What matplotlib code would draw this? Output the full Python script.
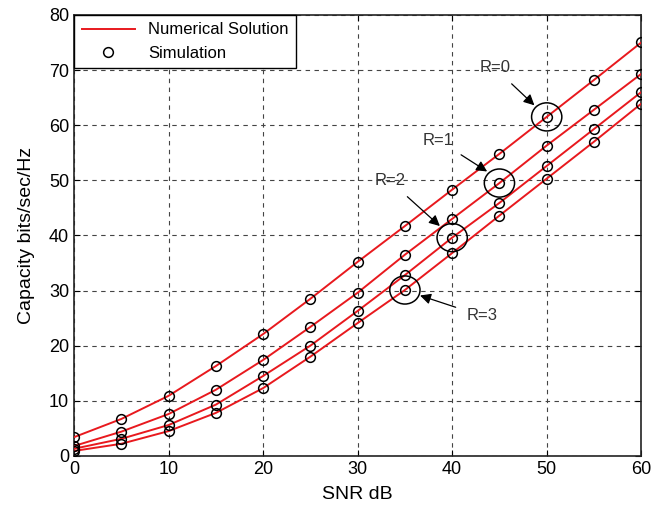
import matplotlib
matplotlib.use("Agg")
import matplotlib.pyplot as plt
from matplotlib.patches import Ellipse

plt.rcParams["font.family"] = ["Liberation Sans", "DejaVu Sans"]

snr = [0, 5, 10, 15, 20, 25, 30, 35, 40, 45, 50, 55, 60]
cap_r0 = [3.4, 6.7, 10.9, 16.3, 22.1, 28.5, 35.2, 41.7, 48.3, 54.8, 61.5, 68.2, 75.0]
cap_r1 = [1.8, 4.4, 7.6, 12.0, 17.4, 23.4, 29.6, 36.5, 43.0, 49.5, 56.3, 62.8, 69.3]
cap_r2 = [1.3, 3.1, 5.6, 9.3, 14.5, 20.0, 26.3, 32.8, 39.6, 45.9, 52.6, 59.3, 66.0]
cap_r3 = [0.9, 2.2, 4.5, 7.8, 12.3, 18.0, 24.1, 30.1, 36.8, 43.6, 50.3, 57.0, 63.9]
curves = [cap_r0, cap_r1, cap_r2, cap_r3]

labels = ["R=0", "R=1", "R=2", "R=3"]
circled_idx = [10, 9, 8, 7]
label_pos = [(44.5, 70.4), (38.5, 57.3), (33.4, 49.9), (41.5, 25.4)]

fig, ax = plt.subplots(figsize=(6.55, 5.14), dpi=100)
fig.subplots_adjust(left=0.113, right=0.979, bottom=0.113, top=0.971)

for i, c in enumerate(curves):
    ax.plot(snr, c, color="#e8191e", lw=1.4,
            label="Numerical Solution" if i == 0 else None, zorder=3)
    ax.plot(snr, c, ls="none", marker="o", ms=7, mfc="none", mec="black",
            mew=1.1, label="Simulation" if i == 0 else None, zorder=4)

for c, k, lab, (tx, ty) in zip(curves, circled_idx, labels, label_pos):
    x0, y0 = snr[k], c[k]
    ax.add_patch(Ellipse((x0, y0), 3.2, 5.1, fill=False, ec="black", lw=1.1, zorder=5))
    if lab == "R=3":
        tgt = (x0 + 1.6, y0 - 1.0)
        ha = "left"
    else:
        tgt = (x0 - 1.3, y0 + 2.1)
        ha = "center"
    ax.annotate(lab, xy=tgt, xytext=(tx, ty), ha=ha, va="center", fontsize=12,
                color="#333333",
                arrowprops=dict(arrowstyle="-|>", color="black", lw=0.9,
                                mutation_scale=16, shrinkA=6, shrinkB=0))

ax.set_xlim(0, 60)
ax.set_ylim(0, 80)
ax.set_xticks(range(0, 61, 10))
ax.set_yticks(range(0, 81, 10))
ax.grid(True, color="#444444", ls=(0, (4, 4)), lw=0.8)
ax.tick_params(direction="in", labelsize=13, top=True, right=True, length=4)
for s in ax.spines.values():
    s.set_linewidth(1.2)
    s.set_color("#222222")
ax.set_xlabel("SNR dB", fontsize=14, labelpad=6)
ax.set_ylabel("Capacity bits/sec/Hz", fontsize=14, labelpad=10)

leg = ax.legend(loc="upper left", fontsize=12, fancybox=False, framealpha=1,
                edgecolor="black", borderaxespad=0, handlelength=3.2,
                borderpad=0.45, labelspacing=0.5)
leg.get_frame().set_linewidth(1.0)

fig.savefig("out.png", dpi=100)
